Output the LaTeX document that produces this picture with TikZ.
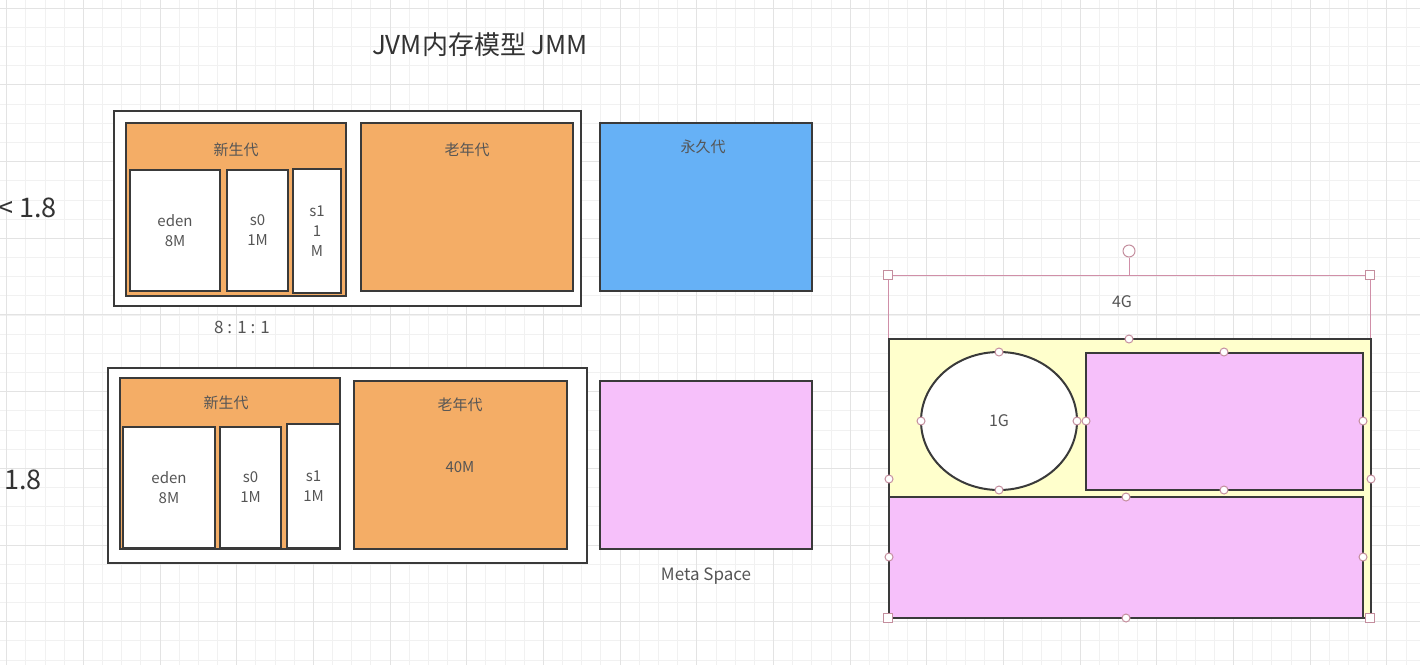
\documentclass[tikz,border=0pt]{standalone}
\usepackage{fontspec}
\setmainfont{Noto Sans CJK SC}
\usetikzlibrary{shapes.geometric}

\definecolor{gridminor}{HTML}{F1F1F1}
\definecolor{gridmajor}{HTML}{E3E3E3}
\definecolor{heaporange}{HTML}{F4AD66}
\definecolor{permblue}{HTML}{66B1F6}
\definecolor{metapink}{HTML}{F6C0FA}
\definecolor{heapyellow}{HTML}{FFFFCC}
\definecolor{edgegrey}{HTML}{3A3A3A}
\definecolor{selpink}{HTML}{D08FA8}
\definecolor{knobpink}{HTML}{C48E9E}
\definecolor{labelgrey}{HTML}{555555}

\begin{document}
\begin{tikzpicture}[x=1pt, y=-1pt,
    membox/.style={draw=edgegrey, line width=2pt, rectangle, inner sep=0pt},
    boxtext/.style={text=labelgrey, font=\fontsize{15}{20}\selectfont, align=center, inner sep=0pt},
    bigtext/.style={text=labelgrey, font=\fontsize{17}{20}\selectfont, inner sep=0pt},
    knob/.style={circle, draw=knobpink, fill=white, line width=1pt, inner sep=0pt, minimum size=8pt},
    cornerknob/.style={rectangle, draw=knobpink, fill=white, line width=1pt, inner sep=0pt, minimum size=9pt},
    selline/.style={draw=selpink, line width=1pt}]

    \useasboundingbox (0,0) rectangle (1420,665);
    \fill[white] (0,0) rectangle (1420,665);

    % Grid
    \foreach \i in {0,...,73}
        \draw[gridminor, line width=1pt] ({6.7+\i*19.17},0) -- ++(0,665);
    \foreach \j in {0,...,34}
        \draw[gridminor, line width=1pt] (0,{8.3+\j*19.17}) -- ++(1420,0);
    \foreach \i in {0,...,18}
        \draw[gridmajor, line width=1pt] ({6.7+\i*76.67},0) -- ++(0,665);
    \foreach \j in {0,...,8}
        \draw[gridmajor, line width=1pt] (0,{8.3+\j*76.67}) -- ++(1420,0);

    % Title and versions
    \node[text=black!80, font=\fontsize{26}{30}\selectfont] (title) at (480,45) {JVM内存模型 JMM};
    \node[anchor=west, inner sep=0pt, text=black!80, font=\fontsize{27}{30}\selectfont] (verold) at (-2,208) {< 1.8};
    \node[anchor=west, inner sep=0pt, text=black!80, font=\fontsize{27}{30}\selectfont] (vernew) at (4,480) {1.8};

    % Before 1.8
    \node[membox, fill=white, minimum width=467, minimum height=195] (outerA) at (347.5,208.5) {};
    \node[membox, fill=heaporange, minimum width=220, minimum height=173] (youngA) at (236,209.5) {};
    \node[boxtext] (youngAtxt) at (236,150) {新生代};
    \node[membox, fill=white, minimum width=90, minimum height=121] (edenA) at (175,230.5) {};
    \node[boxtext] (edenAtxt) at (175,230.5) {eden\\8M};
    \node[membox, fill=white, minimum width=61, minimum height=121] (sZeroA) at (257.5,230.5) {};
    \node[boxtext] (sZeroAtxt) at (257.5,230.5) {s0\\1M};
    \node[membox, fill=white, minimum width=48, minimum height=124] (sOneA) at (317,231) {};
    \node[boxtext] (sOneAtxt) at (317,231) {s1\\1\\M};
    \node[membox, fill=heaporange, minimum width=212, minimum height=168] (oldA) at (467,207) {};
    \node[boxtext] (oldAtxt) at (467,150) {老年代};
    \node[membox, fill=permblue, minimum width=212, minimum height=168] (permA) at (706,207) {};
    \node[boxtext] (permAtxt) at (703,147) {永久代};
    \node[bigtext] (ratio) at (242,327) {8 : 1 : 1};

    % 1.8
    \node[membox, fill=white, minimum width=479, minimum height=195] (outerB) at (347.5,465.5) {};
    \node[membox, fill=heaporange, minimum width=220, minimum height=171] (youngB) at (230,463.5) {};
    \node[boxtext] (youngBtxt) at (226,403) {新生代};
    \node[membox, fill=white, minimum width=92, minimum height=121] (edenB) at (169,487.5) {};
    \node[boxtext] (edenBtxt) at (169,487.5) {eden\\8M};
    \node[membox, fill=white, minimum width=61, minimum height=121] (sZeroB) at (250.5,487.5) {};
    \node[boxtext] (sZeroBtxt) at (250.5,487.5) {s0\\1M};
    \node[membox, fill=white, minimum width=53, minimum height=124] (sOneB) at (313.5,486) {};
    \node[boxtext] (sOneBtxt) at (313.5,486) {s1\\1M};
    \node[membox, fill=heaporange, minimum width=213, minimum height=168] (oldB) at (460.5,465) {};
    \node[boxtext] (oldBtxt) at (460,405) {老年代};
    \node[boxtext] (oldBsize) at (460,467) {40M};
    \node[membox, fill=metapink, minimum width=212, minimum height=168] (metaB) at (706,465) {};
    \node[bigtext] (metaBtxt) at (706,576) {Meta Space};

    % Heap 4G
    \node[cornerknob] (selNW) at (888,275) {};
    \node[cornerknob] (selNE) at (1370,275) {};
    \node[cornerknob] (selSW) at (888,618) {};
    \node[cornerknob] (selSE) at (1370,618) {};
    \node[circle, draw=knobpink, fill=white, line width=1pt, inner sep=0pt, minimum size=12pt] (rot) at (1129,251) {};
    \draw[selline] (selNW) -- (selNE);
    \draw[selline] (selNW) -- (selSW);
    \draw[selline] (selNE) -- (selSE);
    \draw[selline] (rot) -- (rot |- selNW);
    \node[boxtext, font=\fontsize{16}{20}\selectfont] (heaptxt) at (1122,302) {4G};

    \node[membox, fill=heapyellow, minimum width=482, minimum height=279] (heap) at (1130,478.5) {};
    \node[membox, ellipse, fill=white, minimum width=156, minimum height=138] (oneg) at (999,421) {};
    \node[boxtext, font=\fontsize{16}{20}\selectfont] (onegtxt) at (999,421) {1G};
    \node[membox, fill=metapink, minimum width=277, minimum height=137] (heapR) at (1224.5,421.5) {};
    \node[membox, fill=metapink, minimum width=474, minimum height=121] (heapB) at (1126,557.5) {};

    % selection frame on top
    \node[cornerknob] at (selNW) {};
    \node[cornerknob] at (selNE) {};
    \node[cornerknob] at (selSW) {};
    \node[cornerknob] at (selSE) {};
    \foreach \p [count=\k] in {(999,352),(999,490),(921,421),(1077,421),
            (1224,352),(1224,490),(1086,421),(1363,421),
            (1129,339),(889,479),(1371,479),
            (1126,497),(889,557),(1363,557),(1126,618)}
        \node[knob] (knob\k) at \p {};
\end{tikzpicture}
\end{document}
